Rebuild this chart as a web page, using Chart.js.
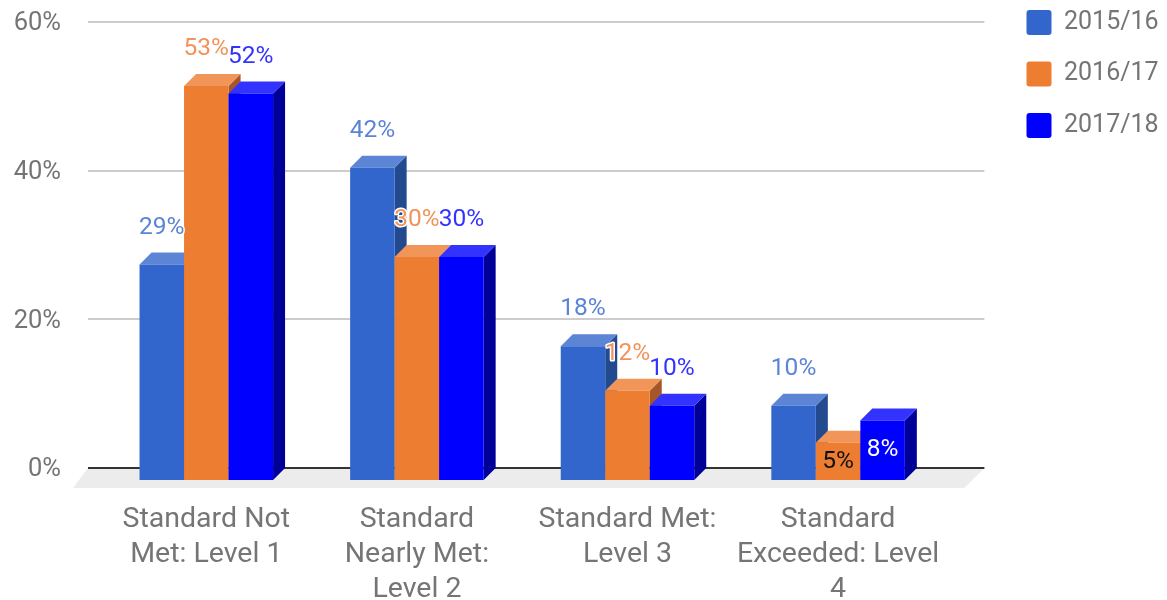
<!DOCTYPE html>
<html>
<head>
<meta charset="utf-8">
<title>Chart</title>
<script src="https://cdn.jsdelivr.net/npm/chart.js@4/dist/chart.umd.min.js"></script>
<style>
    html, body { margin: 0; padding: 0; background: #fff; }
    canvas { display: block; filter: blur(0.4px); }
</style>
</head>
<body>
<canvas id="grafico" width="1167" height="600"></canvas>
<script>
const categorias = [
    ["Standard Not", "Met: Level 1"],
    ["Standard", "Nearly Met:", "Level 2"],
    ["Standard Met:", "Level 3"],
    ["Standard", "Exceeded: Level", "4"]
];
const anos = ["2015/16", "2016/17", "2017/18"];
const valores2015 = [29, 42, 18, 10];
const valores2016 = [53, 30, 12, 5];
const valores2017 = [52, 30, 10, 8];
const marcasY = [0, 20, 40, 60];

const coresFrente = ["#3366cc", "#ed7d31", "#0000ff"];
const coresTopo = ["#5c85d6", "#f19658", "#3333ff"];
const coresLado = ["#234a8f", "#a5572a", "#000099"];
const coresRotulo = ["#5b84d6", "#f1935a", "#3333ff"];
const corTexto = "#757575";
const fonte = "Roboto";
const profundidade = 12;

// ------------------ FACES 3D, GRADE E ROTULOS ------------------
const plugin3d = {
    id: "plugin3d",
    afterLayout(chart) {
        // legenda fica afastada da area do grafico
        const legenda = chart.legend;
        const desloc = 1026.5 - chart.options.plugins.legend.labels.padding - legenda.left;
        legenda.left += desloc;
        legenda.right += desloc;
        legenda.top = -16.5;
    },
    beforeDatasetsDraw(chart) {
        const { ctx, chartArea: area, scales: { y } } = chart;
        ctx.save();

        // chao
        ctx.fillStyle = "#ececec";
        ctx.beginPath();
        ctx.moveTo(area.left - 25, y.getPixelForValue(0));
        ctx.lineTo(area.right + 29, y.getPixelForValue(0));
        ctx.lineTo(area.right + 9, y.getPixelForValue(0) + 20);
        ctx.lineTo(area.left - 40, y.getPixelForValue(0) + 20);
        ctx.closePath();
        ctx.fill();

        // linhas de grade
        marcasY.forEach(v => {
            const py = Math.round(y.getPixelForValue(v));
            ctx.strokeStyle = v === 0 ? "#333333" : "#cccccc";
            ctx.lineWidth = 2;
            ctx.beginPath();
            ctx.moveTo(area.left - 25, py);
            ctx.lineTo(area.right + 29, py);
            ctx.stroke();
        });
        ctx.restore();
    },
    // as barras sao desenhadas depois, da esquerda para a direita
    beforeDatasetDraw() {
        return false;
    },
    afterDatasetsDraw(chart) {
        const { ctx } = chart;
        const d = profundidade;
        ctx.save();
        ctx.translate(-d, d);

        chart.data.datasets.forEach((ds, i) => {
            chart.getDatasetMeta(i).data.forEach(bar => {
                const esq = bar.x - bar.width / 2;
                const dir = bar.x + bar.width / 2;

                ctx.fillStyle = coresLado[i];
                ctx.beginPath();
                ctx.moveTo(dir, bar.y);
                ctx.lineTo(dir + d, bar.y - d);
                ctx.lineTo(dir + d, bar.base - d);
                ctx.lineTo(dir, bar.base);
                ctx.closePath();
                ctx.fill();

                ctx.fillStyle = coresTopo[i];
                ctx.beginPath();
                ctx.moveTo(esq, bar.y);
                ctx.lineTo(esq + d, bar.y - d);
                ctx.lineTo(dir + d, bar.y - d);
                ctx.lineTo(dir, bar.y);
                ctx.closePath();
                ctx.fill();

                bar.draw(ctx);
            });
        });

        // rotulos de valor
        ctx.font = "24.5px " + fonte;
        ctx.textAlign = "center";
        ctx.textBaseline = "middle";
        ctx.lineJoin = "round";
        chart.data.datasets.forEach((ds, i) => {
            chart.getDatasetMeta(i).data.forEach((bar, j) => {
                const texto = ds.data[j] + "%";
                if(ds.data[j] < 9) {
                    // barra baixa: rotulo dentro da barra
                    ctx.fillStyle = i === 1 ? "#111111" : "#ffffff";
                    ctx.fillText(texto, bar.x, (bar.y + bar.base) / 2);
                } else {
                    const py = bar.y - 37;
                    ctx.strokeStyle = "#ffffff";
                    ctx.lineWidth = 3;
                    ctx.strokeText(texto, bar.x, py);
                    ctx.fillStyle = coresRotulo[i];
                    ctx.fillText(texto, bar.x, py);
                }
            });
        });
        ctx.restore();
    }
};

// ------------------ GRAFICO ------------------
const series = [valores2015, valores2016, valores2017];

new Chart(document.getElementById("grafico").getContext("2d"), {
    type: "bar",
    data: {
        labels: categorias,
        datasets: anos.map((ano, i) => ({
            label: ano,
            data: series[i],
            backgroundColor: coresFrente[i],
            borderRadius: 0,
            borderWidth: 0
        }))
    },
    options: {
        responsive: false,
        animation: false,
        devicePixelRatio: 1,
        layout: { padding: { top: 22, right: 43, left: 0, bottom: 0 } },
        datasets: {
            bar: {
                categoryPercentage: 0.634,
                barPercentage: 1
            }
        },
        plugins: {
            tooltip: { enabled: false },
            legend: {
                position: "right",
                align: "start",
                labels: {
                    color: corTexto,
                    font: { family: fonte, size: 25 },
                    boxWidth: 25,
                    boxHeight: 25,
                    padding: 26.5,
                    useBorderRadius: true,
                    borderRadius: 3
                }
            }
        },
        scales: {
            x: {
                grid: { display: false },
                border: { display: false },
                afterFit(scale) {
                    scale.height = 132;
                    scale.paddingLeft = 0;
                    scale.paddingRight = 0;
                },
                ticks: {
                    color: corTexto,
                    font: { family: fonte, size: 28.5, lineHeight: 1.228 },
                    labelOffset: -12,
                    padding: 26,
                    maxRotation: 0,
                    autoSkip: false
                }
            },
            y: {
                min: 0,
                max: 60,
                afterFit(scale) {
                    scale.width = 113;
                    scale.paddingTop = 0;
                    scale.paddingBottom = 0;
                },
                afterBuildTicks(scale) { scale.ticks = marcasY.map(v => ({ value: v })); },
                grid: { display: false },
                border: { display: false },
                ticks: {
                    color: corTexto,
                    font: { family: fonte, size: 25.5 },
                    padding: 44,
                    labelOffset: 2,
                    callback: v => v + "%"
                }
            }
        }
    },
    plugins: [plugin3d]
});
</script>
</body>
</html>
